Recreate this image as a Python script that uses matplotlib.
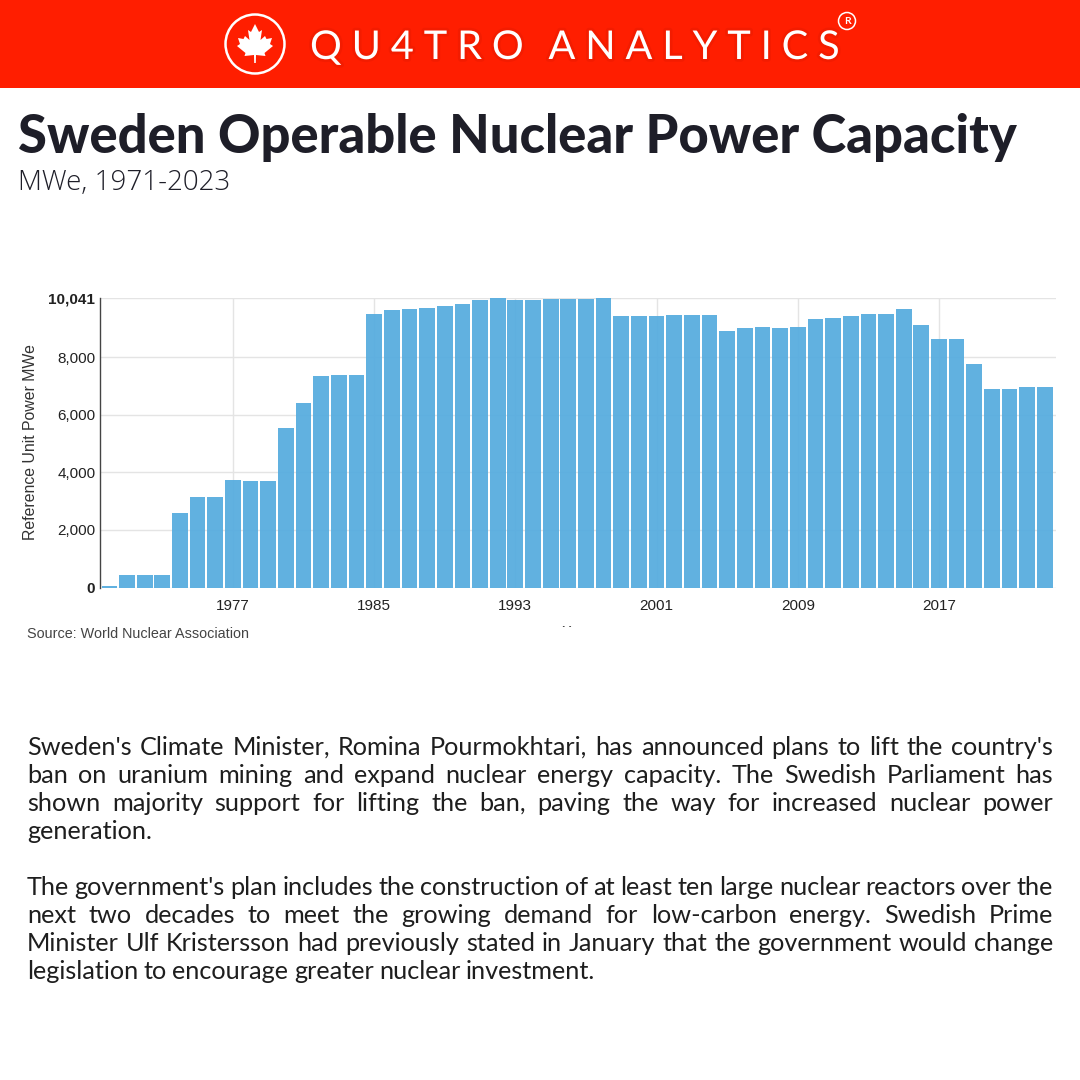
#!/usr/bin/env python3
import matplotlib
matplotlib.use('Agg')
import matplotlib.pyplot as plt
import matplotlib.patheffects as pe
from matplotlib.patches import Rectangle, Circle, Polygon

# chart data
years = list(range(1970, 2024))
capacity = [50, 440, 440, 440, 2590, 3160, 3160, 3730, 3695, 3695,
            5525, 6425, 7340, 7365, 7365, 9486, 9655, 9670, 9705, 9775,
            9855, 10000, 10041, 10000, 10000, 10030, 10020, 10020, 10041, 9417,
            9417, 9417, 9450, 9450, 9473, 8917, 9009, 9056, 9009, 9056,
            9322, 9345, 9415, 9496, 9496, 9670, 9125, 8640, 8627, 7760,
            6890, 6890, 6960, 6960]
x_ticks = [1977, 1985, 1993, 2001, 2009, 2017]
y_ticks = [0, 2000, 4000, 6000, 8000, 10041]
y_labels = ['0', '2,000', '4,000', '6,000', '8,000', '10,041']

body_first = ["Sweden's Climate Minister, Romina Pourmokhtari, has announced plans to lift the country's",
              "ban on uranium mining and expand nuclear energy capacity. The Swedish Parliament has",
              "shown majority support for lifting the ban, paving the way for increased nuclear power",
              "generation."]
body_second = ["The government's plan includes the construction of at least ten large nuclear reactors over the",
               "next two decades to meet the growing demand for low-carbon energy. Swedish Prime",
               "Minister Ulf Kristersson had previously stated in January that the government would change",
               "legislation to encourage greater nuclear investment."]

W, H = 1080, 1080
fig = plt.figure(figsize=(W / 100, H / 100), dpi=100, facecolor='white')

# overlay in pixel coordinates for header and text
ov = fig.add_axes([0, 0, 1, 1], zorder=1)
ov.set_xlim(0, W)
ov.set_ylim(H, 0)
ov.axis('off')

ax = fig.add_axes([99.5 / W, 1 - 587.5 / H, (1056 - 99.5) / W, (587.5 - 298.4) / H], zorder=2)
ax.patch.set_alpha(0)


def fit_width(text, target):
    """Scale a text's font so it spans the target width in pixels"""
    renderer = fig.canvas.get_renderer()
    width = text.get_window_extent(renderer).width
    text.set_fontsize(text.get_fontsize() * target / width)


def draw_chart():
    ax.bar(years, capacity, width=0.89, color='#58ADDF', alpha=0.95, zorder=3)
    ax.set_xlim(1969.44, 2023.63)
    ax.set_ylim(0, 10041)
    ax.set_xticks(x_ticks)
    ax.set_yticks(y_ticks)
    ax.set_yticklabels(y_labels)
    ax.grid(True, color='#E4E4E4', linewidth=1, zorder=0)
    ax.set_axisbelow(True)
    ax.tick_params(length=0, pad=3, labelsize=11, labelcolor='#222222')
    ax.tick_params(axis='x', pad=8)
    for lab in ax.get_xticklabels() + ax.get_yticklabels():
        lab.set_family('Liberation Sans')
    for lab in (ax.get_yticklabels()[0], ax.get_yticklabels()[-1]):
        lab.set_fontweight('bold')
    for s in ['top', 'right', 'bottom']:
        ax.spines[s].set_visible(False)
    ax.spines['left'].set_color('#444444')
    ax.spines['left'].set_linewidth(1.0)
    ov.text(31, 442, 'Reference Unit Power MWe', rotation=90, ha='center', va='center',
            family='Liberation Sans', fontsize=11.4, color='#333333')
    ov.text(27, 634, 'Source: World Nuclear Association', ha='left', va='center',
            family='Liberation Sans', fontsize=10.4, color='#444444')
    # axis title cut off in the original screenshot
    ov.text(567, 632, 'X', ha='center', va='center', family='Liberation Sans',
            fontsize=10.6, color='#333333')
    ov.add_patch(Rectangle((555, 626.5), 25, 20, facecolor='white', edgecolor='none', zorder=5))


def draw_header():
    ov.add_patch(Rectangle((0, 0), W, 88, facecolor='#FF1E00', edgecolor='none'))
    ov.add_patch(Circle((255, 44), 29.5, facecolor='none', edgecolor='white', linewidth=1.8))
    # maple leaf, half outline mirrored
    half = [(0, -20), (4, -12), (7, -14), (5.5, -4), (10, -8), (11.5, -5), (17, -6),
            (15, 0), (18, 2), (9.5, 9), (10.5, 12), (1, 11), (0.8, 19)]
    pts = [(255 + x, 44 + y) for x, y in half] + [(255 - x, 44 + y) for x, y in reversed(half)]
    ov.add_patch(Polygon(pts, closed=True, facecolor='white', edgecolor='none'))
    shadow = [pe.withStroke(linewidth=4, foreground='#C01500', alpha=0.18)]
    logo = ov.text(310, 59, '\u2009\u2009'.join('QU4TRO') + '\u2009\u2009\u2009\u2009\u2009' + '\u2009\u2009'.join('ANALYTICS'),
                   ha='left', va='baseline', family=['Lato', 'DejaVu Sans'], fontweight='normal',
                   fontsize=30, color='white', path_effects=shadow)
    fit_width(logo, 530)
    ov.add_patch(Circle((847, 21), 8.5, facecolor='none', edgecolor='white', linewidth=1.1))
    ov.text(847, 21, 'R', ha='center', va='center', family='Lato', fontsize=7.5,
            fontweight='bold', color='white')


def justify(line, y, left=27, right=1053, stretch=True, size=18.2):
    """Place one line of body text word by word"""
    renderer = fig.canvas.get_renderer()
    words = line.split(' ')
    items = [ov.text(0, y, w, ha='left', va='baseline', family='Lato', fontsize=size, color='#1E1E1E')
             for w in words]
    widths = [t.get_window_extent(renderer).width for t in items]
    gap = (right - left - sum(widths)) / (len(words) - 1) if stretch and len(words) > 1 else size * 0.3
    x = left
    for t, w in zip(items, widths):
        t.set_x(x)
        x += w + gap


def draw_text():
    title = ov.text(18, 153, 'Sweden Operable Nuclear Power Capacity', ha='left', va='baseline',
                    family='Lato', fontweight='black', fontsize=40, color='#1E1E28')
    fit_width(title, 999)
    ov.text(18, 190, 'MWe, 1971-2023', ha='left', va='baseline', family='Open Sans',
            fontweight='light', fontsize=20, color='#1E1E28')
    for i, line in enumerate(body_first):
        justify(line, 755 + 28 * i, stretch=i < 3)
    for i, line in enumerate(body_second):
        justify(line, 895 + 28 * i, stretch=i < 3)


draw_header()
draw_chart()
draw_text()
fig.savefig('out.png', dpi=100)
